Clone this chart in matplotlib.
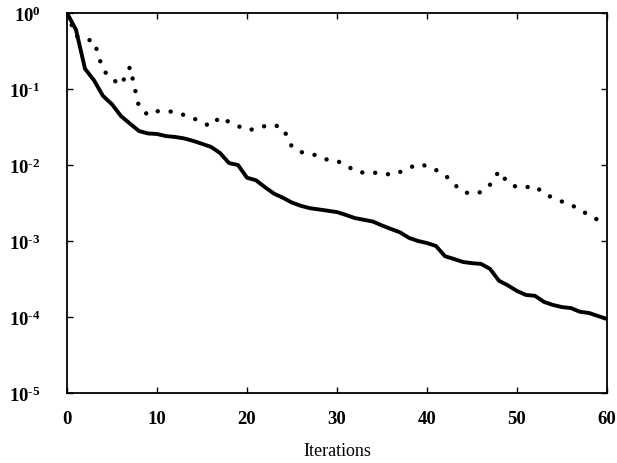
import matplotlib
matplotlib.use("Agg")
import matplotlib.pyplot as plt
from matplotlib.ticker import FixedLocator, NullLocator, FixedFormatter

plt.rcParams['mathtext.fontset'] = 'custom'
plt.rcParams['mathtext.rm'] = 'Liberation Serif:bold'
plt.rcParams['mathtext.bf'] = 'Liberation Serif:bold'
plt.rcParams['mathtext.it'] = 'Liberation Serif:bold'

iterations = list(range(61))

solid_values = [
    1.0, 0.6, 0.185, 0.13, 0.081, 0.063, 0.044, 0.035, 0.028, 0.026,
    0.0256, 0.024, 0.0234, 0.0224, 0.0208, 0.019, 0.0173, 0.0144, 0.0106, 0.0100,
    0.0068, 0.0063, 0.0051, 0.0042, 0.0037, 0.0032, 0.0029, 0.0027, 0.0026, 0.0025,
    0.0024, 0.0022, 0.0020, 0.0019, 0.0018, 0.0016, 0.00144, 0.0013, 0.0011, 0.0010,
    0.00094, 0.00086, 0.00063, 0.00058, 0.00053, 0.00051, 0.00050, 0.00043, 0.00030, 0.00026,
    0.00022, 0.000195, 0.00019, 0.000158, 0.000144, 0.000135, 0.000131, 0.000117, 0.000113, 0.000103,
    0.000094,
]

dotted_values = [
    1.0, 0.5, 0.45, 0.43, 0.178, 0.135, 0.113, 0.195, 0.058, 0.0455,
    0.051, 0.051, 0.0499, 0.0455, 0.0417, 0.0357, 0.0326, 0.0428, 0.0368, 0.0326,
    0.0288, 0.0298, 0.0326, 0.0336, 0.0307, 0.0173, 0.0148, 0.0140, 0.0132, 0.0116,
    0.0113, 0.0100, 0.0083, 0.0079, 0.0079, 0.0079, 0.0074, 0.0081, 0.0091, 0.0103,
    0.0097, 0.0086, 0.0074, 0.0056, 0.0044, 0.0042, 0.0044, 0.0055, 0.0083, 0.0058,
    0.0051, 0.0051, 0.0053, 0.0042, 0.0037, 0.0033, 0.0030, 0.00256, 0.0022, 0.00189,
    0.00162,
]

x_ticks = [0, 10, 20, 30, 40, 50, 60]
y_ticks = [1e0, 1e-1, 1e-2, 1e-3, 1e-4, 1e-5]
y_tick_labels = [r'$10^{0}$', r'$10^{\text{-}1}$', r'$10^{\text{-}2}$',
                 r'$10^{\text{-}3}$', r'$10^{\text{-}4}$', r'$10^{\text{-}5}$']
x_label = "Iterations"

fig = plt.figure(figsize=(6.17, 4.64), dpi=100)
ax = fig.add_axes([67/617, 1 - 394/464, 540/617, 380/464])

ax.plot(iterations, solid_values, color='black', lw=2.8, solid_capstyle='round',
        solid_joinstyle='round')
ax.plot(iterations, dotted_values, color='black', lw=3.2,
        linestyle=(0, (0.01, 2.9)), dash_capstyle='round')

ax.set_yscale('log')
ax.set_xlim(0, 60)
ax.set_ylim(1e-5, 1e0)

ax.xaxis.set_major_locator(FixedLocator(x_ticks))
ax.xaxis.set_minor_locator(NullLocator())
ax.yaxis.set_major_locator(FixedLocator(y_ticks))
ax.yaxis.set_minor_locator(NullLocator())
ax.yaxis.set_major_formatter(FixedFormatter(y_tick_labels))

ax.tick_params(axis='both', which='major', direction='in', length=4.5, width=1.0,
               top=True, right=True, labelsize=13.5)
ax.tick_params(axis='x', pad=12)
ax.tick_params(axis='y', pad=19)
for lbl in ax.get_xticklabels():
    lbl.set_fontfamily('Liberation Serif')
    lbl.set_fontweight('bold')

for sp in ax.spines.values():
    sp.set_linewidth(1.3)

ax.set_xlabel(x_label, fontfamily='Liberation Serif', fontsize=13, labelpad=11)

fig.savefig('out.png', dpi=100)
